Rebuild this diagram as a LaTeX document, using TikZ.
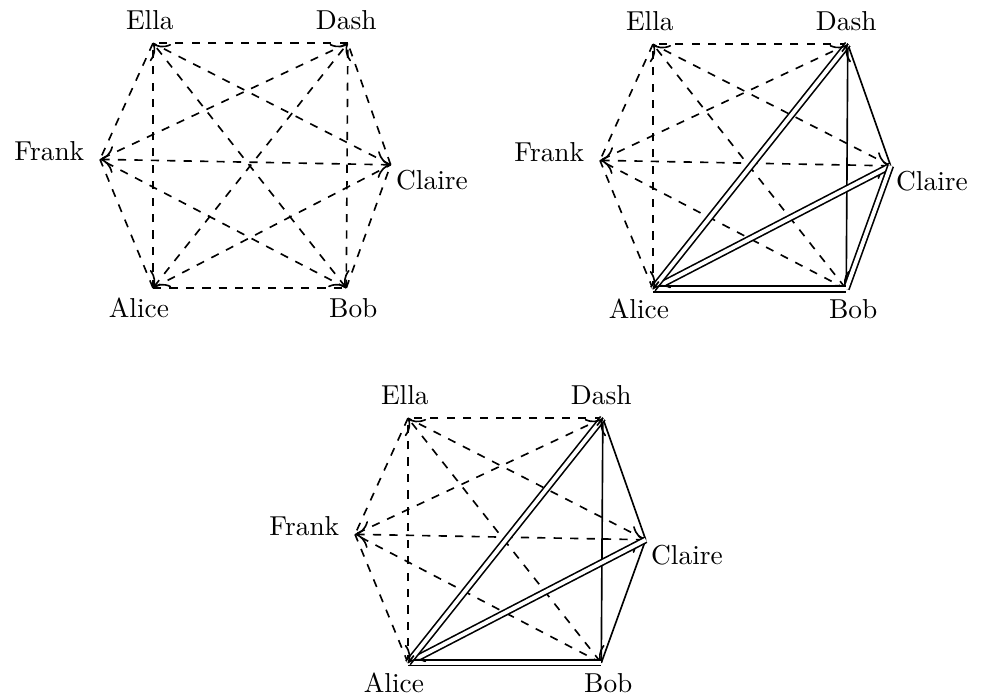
\documentclass[tikz,border=0pt]{standalone}
\usetikzlibrary{calc,arrows.meta}
\begin{document}
\begin{tikzpicture}[semithick, >={To[scale=1.6]},
    cand/.style={dashed},
    pick/.style={double, double distance=1.4pt},
    who/.style={anchor=base}]
\useasboundingbox (0,0) rectangle (12.60,8.955);

% all pairs still open
\begin{scope}[shift={(1.963,5.260)}]
  \coordinate (a1) at (0,0);
  \coordinate (b1) at (2.48,0);
  \coordinate (c1) at (3.05,1.58);
  \coordinate (d1) at (2.5,3.14);
  \coordinate (e1) at (0,3.14);
  \coordinate (f1) at (-0.68,1.65);
  \node[who] (la1) at (-0.18,-0.385) {Alice};
  \node[who] (lb1) at (2.57,-0.385) {Bob};
  \node[who] (lc1) at (3.58,1.26) {Claire};
  \node[who] (ld1) at (2.48,3.32) {Dash};
  \node[who] (le1) at (-0.04,3.32) {Ella};
  \node[who] (lf1) at (-1.33,1.64) {Frank};
  \foreach \x/\y in {a/b,a/c,a/e,a/f,b/c,b/d,b/f,c/d,c/e,d/e,d/f,e/f}
    \draw[cand] (\x1) -- (\y1);
  \foreach \x/\y in {a/d,b/e,c/f}
    \draw[cand,<->] (\x1) -- (\y1);
\end{scope}

% after the first round
\begin{scope}[shift={(8.378,5.247)}]
  \coordinate (a2) at (0,0);
  \coordinate (b2) at (2.48,0);
  \coordinate (c2) at (3.05,1.58);
  \coordinate (d2) at (2.5,3.14);
  \coordinate (e2) at (0,3.14);
  \coordinate (f2) at (-0.68,1.65);
  \node[who] (la2) at (-0.18,-0.385) {Alice};
  \node[who] (lb2) at (2.57,-0.385) {Bob};
  \node[who] (lc2) at (3.58,1.26) {Claire};
  \node[who] (ld2) at (2.48,3.32) {Dash};
  \node[who] (le2) at (-0.04,3.32) {Ella};
  \node[who] (lf2) at (-1.33,1.64) {Frank};
  \foreach \x/\y in {a/e,a/f,b/f,c/e,d/e,d/f,e/f}
    \draw[cand] (\x2) -- (\y2);
  \foreach \x/\y in {b/e,c/f}
    \draw[cand,<->] (\x2) -- (\y2);
  \draw (c2) -- (d2);
  \draw (b2) -- (d2);
  \draw[pick] (a2) -- (c2);
  \draw[pick] (b2) -- (c2);
  \draw[pick] (a2) -- (b2);
  \draw[pick] (a2) -- (d2);
  \draw[->] ($(a2)!0.97!(d2)$) -- (d2);
  \draw[->] ($(d2)!0.97!(a2)$) -- (a2);
\end{scope}

% after the second round
\begin{scope}[shift={(5.235,0.449)}]
  \coordinate (a3) at (0,0);
  \coordinate (b3) at (2.48,0);
  \coordinate (c3) at (3.05,1.58);
  \coordinate (d3) at (2.5,3.14);
  \coordinate (e3) at (0,3.14);
  \coordinate (f3) at (-0.68,1.65);
  \node[who] (la3) at (-0.18,-0.385) {Alice};
  \node[who] (lb3) at (2.57,-0.385) {Bob};
  \node[who] (lc3) at (3.58,1.26) {Claire};
  \node[who] (ld3) at (2.48,3.32) {Dash};
  \node[who] (le3) at (-0.04,3.32) {Ella};
  \node[who] (lf3) at (-1.33,1.64) {Frank};
  \foreach \x/\y in {a/e,a/f,b/f,c/e,d/e,d/f,e/f}
    \draw[cand] (\x3) -- (\y3);
  \foreach \x/\y in {b/e,c/f}
    \draw[cand,<->] (\x3) -- (\y3);
  \draw (c3) -- (d3);
  \draw (b3) -- (d3);
  \draw (b3) -- (c3);
  \draw[pick] (a3) -- (c3);
  \draw[pick] (a3) -- (b3);
  \draw[pick] (a3) -- (d3);
  \draw[->] ($(a3)!0.97!(d3)$) -- (d3);
  \draw[->] ($(d3)!0.97!(a3)$) -- (a3);
\end{scope}
\end{tikzpicture}
\end{document}
